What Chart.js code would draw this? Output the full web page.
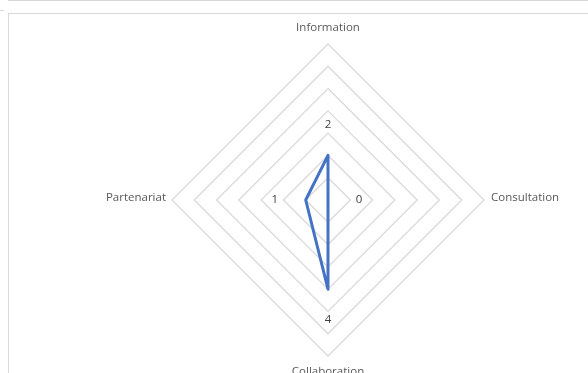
<!DOCTYPE html>
<html>
<head>
<meta charset="utf-8">
<script src="https://cdn.jsdelivr.net/npm/chart.js@4.4.1/dist/chart.umd.min.js"></script>
<style>
  html, body { margin: 0; padding: 0; background: #ffffff; }
  #wrap { position: relative; width: 588px; height: 373px; overflow: hidden; }
  .rule { position: absolute; background: #d9d9d9; }
  #frame { position: absolute; left: 8px; top: 13px; width: 600px; height: 400px;
           border-left: 1px solid #d9d9d9; border-top: 1px solid #d9d9d9; box-sizing: border-box; }
  canvas { position: absolute; left: 0; top: 0; }
</style>
</head>
<body>
<div id="wrap">
  <div class="rule" style="left:8px;top:0;width:580px;height:1px;"></div>
  <div class="rule" style="left:0;top:10px;width:4px;height:1px;"></div>
  <div id="frame"></div>
  <canvas id="chart" width="588" height="373"></canvas>
</div>
<script>
// Categories around the radar, clockwise from the top
const categories = ['Information', 'Consultation', 'Collaboration', 'Partenariat'];
// Level reached on each axis
const levels = [2, 0, 4, 1];
// Radial scale range
const scaleMin = 0;
const scaleMax = 7;
const scaleStep = 1;

const TEXT_FONT = '11.5px "Open Sans", sans-serif';

// Axis names placed just outside the outer ring
const axisNames = {
  id: 'axisNames',
  afterDraw(chart) {
    const scale = chart.scales.r;
    const ctx = chart.ctx;
    ctx.save();
    ctx.font = TEXT_FONT;
    ctx.fillStyle = '#595959';
    chart.data.labels.forEach((name, i) => {
      const p = scale.getPointPosition(i, scale.drawingArea);
      const dx = p.x - scale.xCenter, dy = p.y - scale.yCenter;
      if (Math.abs(dy) > Math.abs(dx)) {
        ctx.textAlign = 'center';
        ctx.textBaseline = 'alphabetic';
        ctx.fillText(name, p.x, dy < 0 ? p.y - 13 : p.y + 19);
      } else {
        ctx.textAlign = dx > 0 ? 'left' : 'right';
        ctx.textBaseline = 'alphabetic';
        ctx.fillText(name, dx > 0 ? p.x + 7 : p.x - 6, p.y + 1);
      }
    });
    ctx.restore();
  }
};

// Value labels set outward from each point along its axis
const valueLabels = {
  id: 'valueLabels',
  afterDatasetsDraw(chart) {
    const scale = chart.scales.r;
    const ctx = chart.ctx;
    const values = chart.data.datasets[0].data;
    ctx.save();
    ctx.font = TEXT_FONT;
    ctx.fillStyle = '#404040';
    ctx.textAlign = 'center';
    ctx.textBaseline = 'middle';
    values.forEach((v, i) => {
      const a = scale.getIndexAngle(i) - Math.PI / 2;
      const r = scale.getDistanceFromCenterForValue(v) + 31;
      ctx.fillText(String(v), scale.xCenter + Math.cos(a) * r, scale.yCenter + Math.sin(a) * r);
    });
    ctx.restore();
  }
};

new Chart(document.getElementById('chart'), {
  type: 'radar',
  data: {
    labels: categories,
    datasets: [{
      data: levels,
      borderColor: '#4472C4',
      backgroundColor: 'rgba(0,0,0,0)',
      borderWidth: 3,
      borderJoinStyle: 'round',
      pointRadius: 0,
      pointHoverRadius: 0,
      fill: false,
      tension: 0
    }]
  },
  options: {
    responsive: false,
    animation: false,
    events: [],
    layout: { padding: { left: 172, right: 104, top: 44, bottom: 17 } },
    plugins: { legend: { display: false }, tooltip: { enabled: false } },
    scales: {
      r: {
        min: scaleMin,
        max: scaleMax,
        ticks: { display: false, stepSize: scaleStep },
        angleLines: { display: false },
        grid: { color: '#d9d9d9', lineWidth: 1.3 },
        pointLabels: { display: false }
      }
    }
  },
  plugins: [axisNames, valueLabels]
});
</script>
</body>
</html>
